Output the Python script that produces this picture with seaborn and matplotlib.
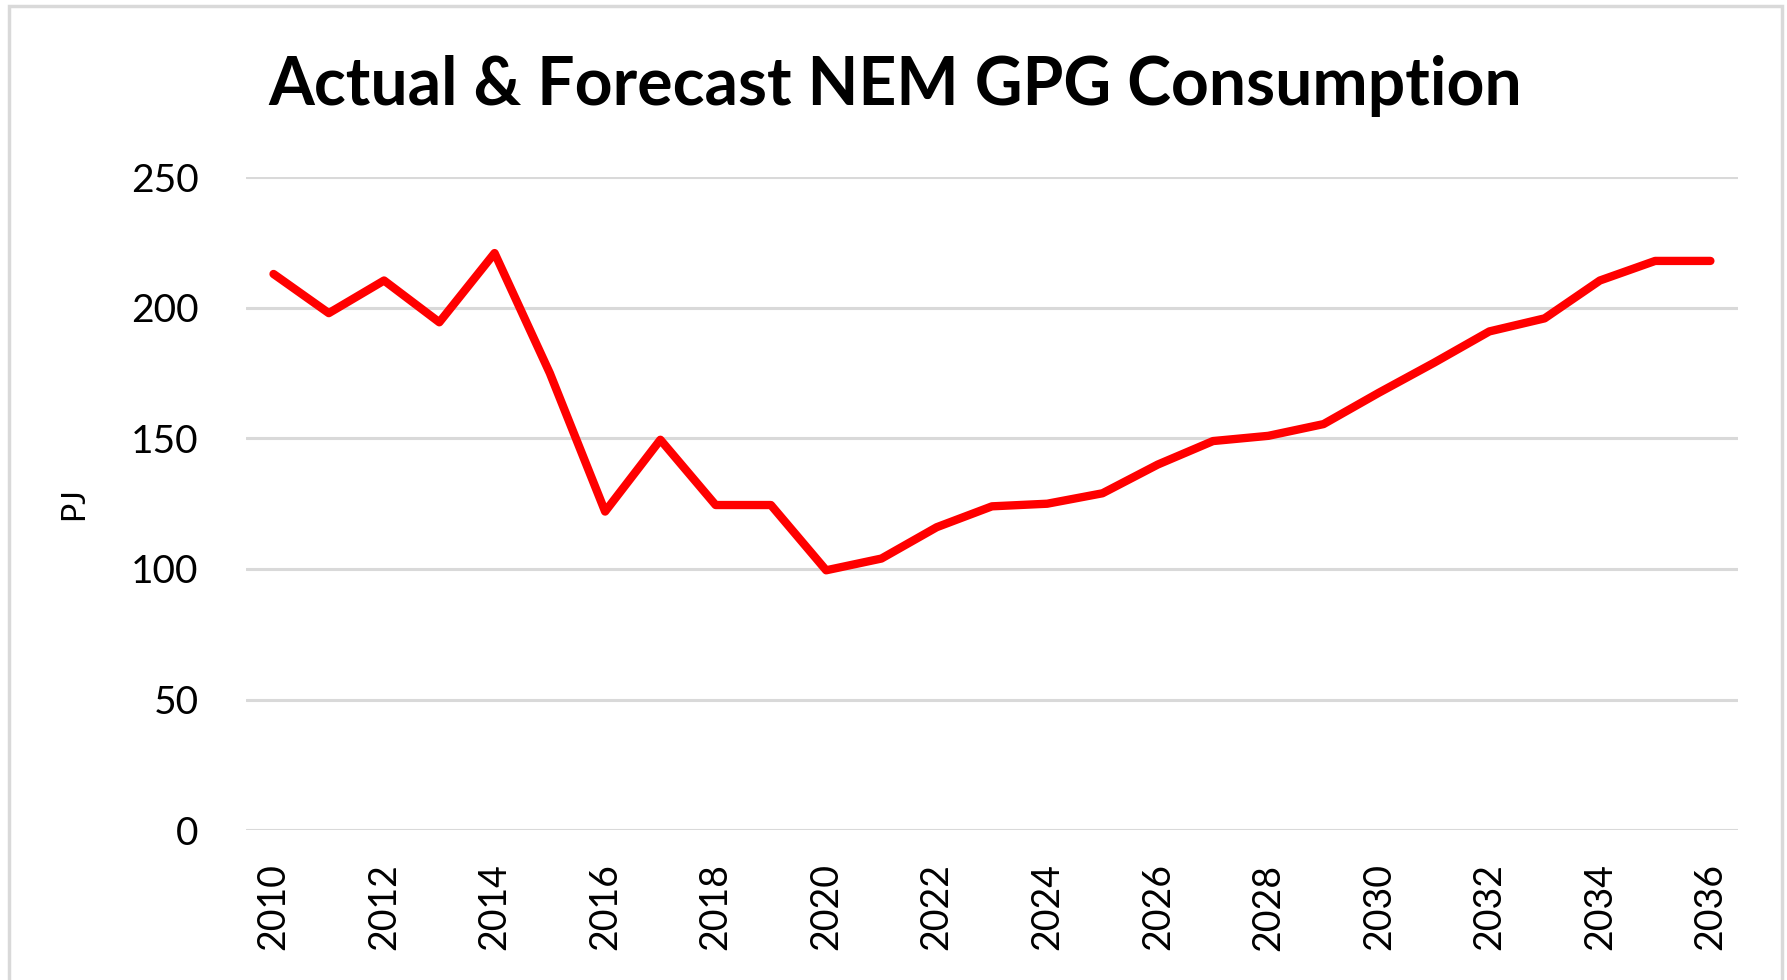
import matplotlib
matplotlib.use("Agg")
import matplotlib.pyplot as plt
import seaborn as sns
import pandas as pd

years = list(range(2010, 2037))
gpg_pj = [213, 198, 210.5, 194.5, 221, 175, 122, 149.5, 124.5, 124.5, 99.5,
          104, 116, 124, 125, 129, 140, 149, 151, 155.5, 167.5, 179, 191,
          196, 210.5, 218, 218]
year_ticks = list(range(2010, 2037, 2))
y_ticks = [0, 50, 100, 150, 200, 250]

df = pd.DataFrame({'year': years, 'pj': gpg_pj})

sns.set_theme(style='white')
plt.rcParams['font.family'] = ['Lato', 'DejaVu Sans']

fig = plt.figure(figsize=(17.87, 9.8), dpi=100)
ax = fig.add_axes([0.1376, 0.153, 0.835, 0.666])

sns.lineplot(data=df, x='year', y='pj', color='#FF0000', linewidth=6, ax=ax)

ax.set_xlim(2009.5, 2036.5)
ax.set_ylim(0, 250)
ax.set_xticks(year_ticks)
ax.set_xticklabels([str(y) for y in year_ticks], rotation=90, fontsize=27, color='black')
ax.set_yticks(y_ticks)
ax.set_yticklabels([str(v) for v in y_ticks], fontsize=28, color='black')
ax.tick_params(axis='x', length=0, pad=24)
ax.tick_params(axis='y', length=0, pad=34)
ax.yaxis.grid(True, color='#D9D9D9', linewidth=2.2)
ax.xaxis.grid(False)
for s in ax.spines.values():
    s.set_visible(False)

ax.set_xlabel('')
ax.set_ylabel('PJ', fontsize=23, labelpad=30, color='black')

fig.text(0.501, 0.912, 'Actual & Forecast NEM GPG Consumption',
         ha='center', va='center', fontsize=47.5, fontweight='bold', color='black')

# light gray chart-area border
fig.patches.append(plt.Rectangle((0.005, -0.01), 0.992, 1.004, transform=fig.transFigure,
                                 fill=False, edgecolor='#D9D9D9', linewidth=2.5))

fig.savefig('out.png', dpi=100)
plt.close(fig)
